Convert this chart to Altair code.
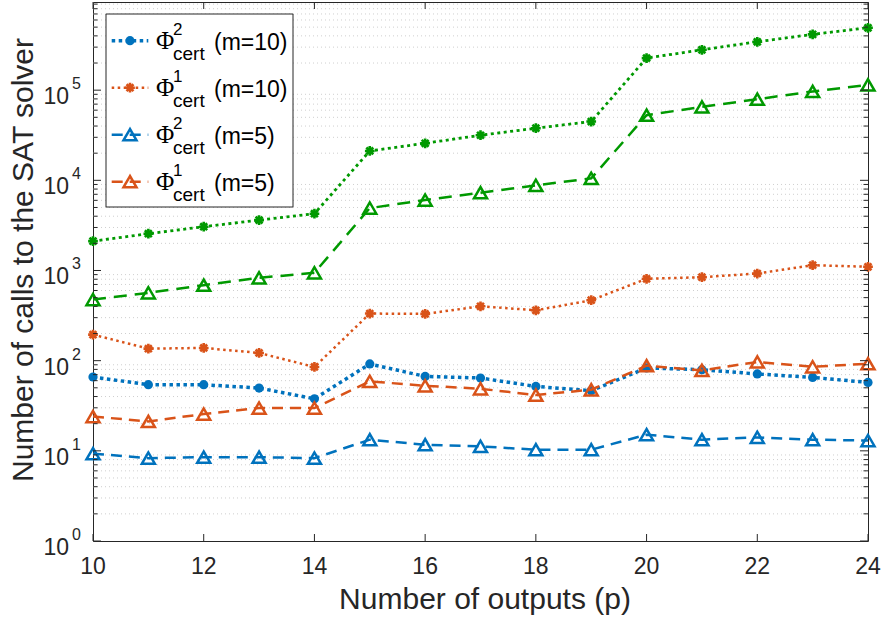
import altair as alt
import pandas as pd

# ---------------- data ----------------
p = list(range(10, 25))
green_m10 = [2117, 2557, 3060, 3622, 4266, 21170, 25760, 31620, 37840, 44900,
             226800, 280500, 344000, 415600, 492000]
green_m5 = [476, 565, 687, 829, 943, 4922, 6040, 7300, 8790, 10520,
            52800, 65200, 79400, 96800, 114500]
phi2_m10 = [65.9, 54.1, 54.1, 49.7, 37.8, 91.9, 66.9, 64.2, 51.8, 46.4,
            83.0, 79.4, 71.2, 65.2, 57.4]
phi1_m10 = [194.5, 135.9, 138.4, 121.8, 85.1, 333, 330, 401, 362, 468,
            809, 843, 926, 1145, 1099]
phi2_m5 = [9.3, 8.3, 8.5, 8.5, 8.3, 13.3, 11.7, 11.2, 10.3, 10.3,
           15.1, 13.3, 14.1, 13.3, 13.0]
phi1_m5 = [24.0, 21.2, 25.6, 29.8, 29.8, 58.9, 52.7, 48.8, 41.6, 47.6,
           88.0, 78.0, 96.7, 85.5, 92.6]

legend_sup = ["2", "1", "2", "1"]
legend_tail = ["(m=10)", "(m=10)", "(m=5)", "(m=5)"]

x_ticks = [10, 12, 14, 16, 18, 20, 22, 24]
y_exps = [0, 1, 2, 3, 4, 5]
Y_MAX = 9.5e5
x_title = "Number of outputs (p)"
y_title = "Number of calls to the SAT solver"

# ---------------- styling ----------------
W, H = 775, 539
AX = "#262626"
FONT = "Liberation Sans"
BLUE, ORANGE, GREEN = "#0072BD", "#D95319", "#009900"
STAR = ("M-1,0L1,0M0,-1L0,1M-0.707,-0.707L0.707,0.707"
        "M-0.707,0.707L0.707,-0.707")

X_SCALE = alt.Scale(domain=[10, 24], nice=False, zero=False)
Y_SCALE = alt.Scale(type="log", domain=[1, Y_MAX], nice=False)

y_major = [10 ** e for e in y_exps]
y_minor = [m * 10 ** k for k in range(6) for m in range(2, 10) if m * 10 ** k < Y_MAX]

x_axis = alt.Axis(values=x_ticks, grid=True, gridColor="#e3e3e3", gridWidth=1,
                  ticks=False, domain=False, labels=False, title=None)
y_axis = alt.Axis(values=y_major, grid=True, gridColor="#e3e3e3", gridWidth=1,
                  ticks=False, domain=False, labels=False, title=None)

one = pd.DataFrame({"a": [0]})
layers = []

# minor dotted grid
minor_df = pd.DataFrame({"v": y_minor})
layers.append(alt.Chart(minor_df).mark_rule(color="#cfcfcf", strokeWidth=1,
                                             strokeDash=[1, 3]).encode(
    x=alt.value(0), x2=alt.value(W),
    y=alt.Y("v:Q", scale=Y_SCALE, axis=y_axis)))

# series
series = [
    (green_m10, GREEN, [3, 3.5], 2.8, "star"),
    (green_m5, GREEN, [13, 8], 2.5, "tri"),
    (phi2_m10, BLUE, [3.5, 3.5], 3.5, "circle"),
    (phi1_m10, ORANGE, [2.5, 3.5], 2.5, "star"),
    (phi2_m5, BLUE, [11, 7], 2.5, "tri"),
    (phi1_m5, ORANGE, [11, 7], 2.5, "tri"),
]


def point_mark(kind, color):
    if kind == "circle":
        return dict(shape="circle", filled=True, size=85, color=color, opacity=1)
    if kind == "star":
        return dict(shape=STAR, filled=False, size=95, strokeWidth=2.6,
                    color=color, opacity=1)
    return dict(shape="triangle-up", filled=False, size=170, strokeWidth=2.5,
                color=color, opacity=1)


first = True
for vals, color, dash, lw, kind in series:
    df = pd.DataFrame({"p": p, "v": vals})
    xa = x_axis if first else None
    first = False
    enc = dict(x=alt.X("p:Q", scale=X_SCALE, axis=xa),
               y=alt.Y("v:Q", scale=Y_SCALE, axis=None))
    layers.append(alt.Chart(df).mark_line(color=color, strokeDash=dash,
                                          strokeWidth=lw).encode(**enc))
    layers.append(alt.Chart(df).mark_point(**point_mark(kind, color)).encode(**enc))

# inward ticks (box style)
xt = pd.DataFrame({"p": x_ticks, "lab": [str(t) for t in x_ticks]})
for y0, y1 in [(H, H - 7), (0, 7)]:
    layers.append(alt.Chart(xt).mark_rule(color=AX, strokeWidth=1).encode(
        x=alt.X("p:Q", scale=X_SCALE, axis=None), y=alt.value(y0), y2=alt.value(y1)))
yt = pd.DataFrame({"v": y_major})
ym = pd.DataFrame({"v": y_minor})
for df, ln in [(yt, 8), (ym, 4.5)]:
    for x0, x1 in [(0, ln), (W - ln, W)]:
        layers.append(alt.Chart(df).mark_rule(color=AX, strokeWidth=1).encode(
            y=alt.Y("v:Q", scale=Y_SCALE, axis=None), x=alt.value(x0), x2=alt.value(x1)))

# x tick labels
layers.append(alt.Chart(xt).mark_text(align="center", baseline="middle", font=FONT,
                                      fontSize=23, color=AX).encode(
    x=alt.X("p:Q", scale=X_SCALE, axis=None), y=alt.value(H + 26), text="lab:N"))

# y tick labels 10^k
lab = pd.DataFrame({"v": y_major, "base": ["10"] * len(y_exps),
                    "exp": [str(e) for e in y_exps]})
layers.append(alt.Chart(lab).mark_text(align="right", baseline="middle", font=FONT,
                                       fontSize=23, color=AX, dy=7).encode(
    x=alt.value(-24), y=alt.Y("v:Q", scale=Y_SCALE, axis=None), text="base:N"))
layers.append(alt.Chart(lab).mark_text(align="left", baseline="middle", font=FONT,
                                       fontSize=16, color=AX, dy=-6).encode(
    x=alt.value(-21), y=alt.Y("v:Q", scale=Y_SCALE, axis=None), text="exp:N"))

# axis titles
layers.append(alt.Chart(one).mark_text(align="center", baseline="middle", font=FONT,
                                       fontSize=30, color=AX).encode(
    x=alt.value(392), y=alt.value(H + 59), text=alt.value(x_title)))
layers.append(alt.Chart(one).mark_text(align="center", baseline="middle", font=FONT,
                                       fontSize=30, color=AX, angle=270).encode(
    x=alt.value(-69), y=alt.value(258), text=alt.value(y_title)))

# legend box
layers.append(alt.Chart(one).mark_rect(fill="white", stroke=AX, strokeWidth=1).encode(
    x=alt.value(13), x2=alt.value(200), y=alt.value(12), y2=alt.value(205)))

legend_styles = series[2:]
for i, (vals, color, dash, lw, kind) in enumerate(legend_styles):
    cy = 38.7 + 47 * i
    layers.append(alt.Chart(one).mark_rule(color=color, strokeDash=dash,
                                           strokeWidth=lw).encode(
        x=alt.value(18.7), x2=alt.value(55.3), y=alt.value(cy)))
    layers.append(alt.Chart(one).mark_point(**point_mark(kind, color)).encode(
        x=alt.value(37), y=alt.value(cy)))
    layers.append(alt.Chart(one).mark_text(align="left", baseline="middle",
                                           font="Liberation Serif", fontSize=25,
                                           color="black").encode(
        x=alt.value(63), y=alt.value(cy), text=alt.value("Φ")))
    layers.append(alt.Chart(one).mark_text(align="left", baseline="middle", font=FONT,
                                           fontSize=17, color="black").encode(
        x=alt.value(80), y=alt.value(cy - 11), text=alt.value(legend_sup[i])))
    layers.append(alt.Chart(one).mark_text(align="left", baseline="middle", font=FONT,
                                           fontSize=19, color="black").encode(
        x=alt.value(80), y=alt.value(cy + 13), text=alt.value("cert")))
    layers.append(alt.Chart(one).mark_text(align="left", baseline="middle", font=FONT,
                                           fontSize=23, color="black").encode(
        x=alt.value(121), y=alt.value(cy + 2), text=alt.value(legend_tail[i])))

chart = alt.layer(*layers).properties(
    width=W, height=H,
    padding={"left": 93, "top": 2, "right": 17, "bottom": 83},
    autosize=alt.AutoSizeParams(type="none"),
    background="white",
).configure_view(stroke=AX, strokeWidth=1)

chart.save("out.html", embed_options={"renderer": "svg", "actions": False})
